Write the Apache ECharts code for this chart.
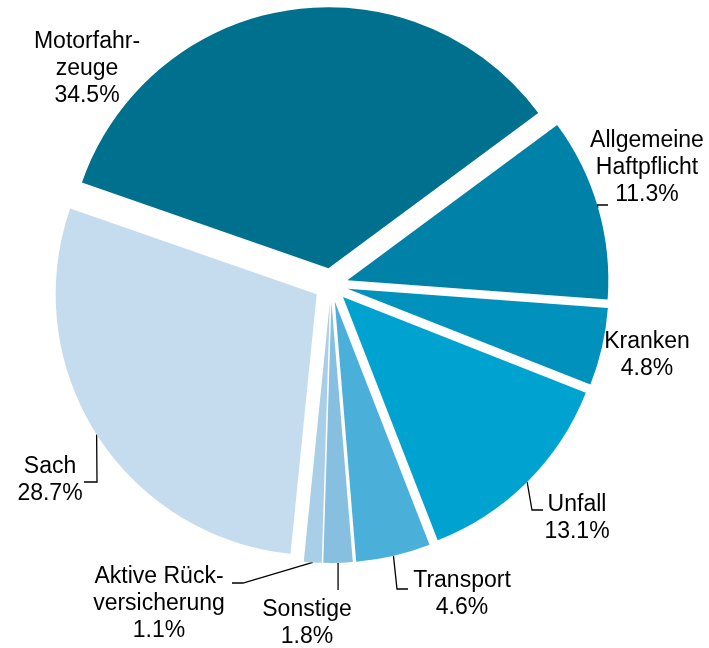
<!DOCTYPE html>
<html>
<head>
<meta charset="utf-8">
<script src="https://cdn.jsdelivr.net/npm/echarts@6/dist/echarts.min.js"></script>
<style>
  html, body { margin: 0; padding: 0; background: #fff; }
  #chart { width: 709px; height: 648px; }
</style>
</head>
<body>
<div id="chart"></div>
<script>
// shares by branch, clockwise from upper right
const categories = ['Allgemeine\nHaftpflicht', 'Kranken', 'Unfall', 'Transport', 'Sonstige',
  'Aktive Rück-\nversicherung', 'Sach', 'Motorfahr-\nzeuge'];
const shares = [11.3, 4.8, 13.1, 4.6, 1.8, 1.1, 28.7, 34.5];

const colors = ['#0081a8', '#0092bd', '#00a3d0', '#4aafd9', '#86bfe0', '#a9cfe8', '#c4dcee', '#00708f'];
// label centres (px)
const labelPos = [[647, 168], [647, 355], [577, 518], [462, 594], [307, 623], [159, 604], [50, 480], [87, 69]];
// where each leader line meets its label (null = no line) and length of the horizontal elbow
const leaderEnd = [[608, 205], null, [543, 510], [408, 589], 'down', [232, 583], [84, 482], null];
const elbow = [-11, 0, -11, -11, 0, 11, 13, 0];

const chart = echarts.init(document.getElementById('chart'));

const R = 261, OFFSET = 17;

const option = {
  animation: false,
  series: [
    {
      // exploded slices
      type: 'pie',
      center: [331, 285],
      radius: R,
      startAngle: 36.5,
      selectedMode: 'multiple',
      selectedOffset: OFFSET,
      emphasis: { disabled: true },
      label: { show: false },
      labelLine: { show: false },
      data: categories.map((name, i) => ({
        name: name,
        value: shares[i],
        selected: true,
        itemStyle: { color: colors[i] },
      })),
    },
    {
      // invisible copy, only carries the labels and leader lines
      type: 'pie',
      center: [331, 285],
      radius: R + OFFSET,
      startAngle: 36.5,
      silent: true,
      avoidLabelOverlap: false,
      emphasis: { disabled: true },
      itemStyle: { color: 'rgba(0,0,0,0)' },
      label: {
        show: true,
        position: 'outside',
        fontFamily: 'Liberation Sans, Arial, sans-serif',
        fontSize: 23,
        lineHeight: 27,
        color: '#000',
        formatter: (p) => p.name + '\n' + p.value.toFixed(1) + '%',
      },
      labelLine: {
        show: true,
        length: 10,
        length2: 10,
        lineStyle: { color: '#000', width: 1.3 },
      },
      labelLayout: (params) => {
        const i = params.dataIndex
        const pos = labelPos[i]
        const res = { x: pos[0], y: pos[1], align: 'center', verticalAlign: 'middle' }
        const pts = params.labelLinePoints
        const end = leaderEnd[i]
        if (pts && end) {
          // start where the library puts it: mid-angle point on the arc
          const start = [pts[0][0], pts[0][1]]
          if (end === 'down') {
            res.labelLinePoints = [start, [start[0], start[1] + 13], [start[0], start[1] + 27]]
          } else {
            res.labelLinePoints = [start, [end[0] + elbow[i], end[1]], [end[0], end[1]]]
          }
        }
        return res
      },
      data: categories.map((name, i) => ({
        name: name,
        value: shares[i],
        labelLine: { show: leaderEnd[i] != null },
      })),
    },
  ],
};

chart.setOption(option);
</script>
</body>
</html>
